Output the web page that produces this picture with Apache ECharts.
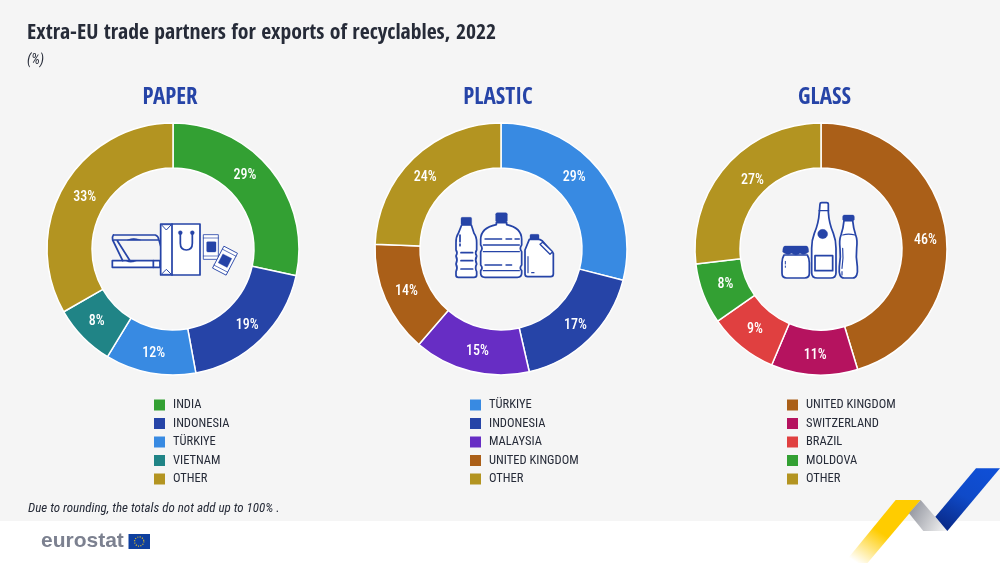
<!DOCTYPE html>
<html><head><meta charset="utf-8">
<style>html,body{margin:0;padding:0;background:#fff}#c{width:1000px;height:563px}</style>
<script src="https://cdn.jsdelivr.net/npm/echarts@6/dist/echarts.min.js"></script>
</head><body><div id="c"></div>
<script>
const paperNames=['INDIA','INDONESIA','TÜRKIYE','VIETNAM','OTHER'];
const paperLabels=[29,19,12,8,33];
const paperValues=[28.4,18.7,11.6,8.0,33.3];
const paperColors=['#33A033','#2644A7','#388AE2','#208486','#B39421'];
const plasticNames=['TÜRKIYE','INDONESIA','MALAYSIA','UNITED KINGDOM','OTHER'];
const plasticLabels=[29,17,15,14,24];
const plasticValues=[29.0,17.4,14.9,14.3,24.4];
const plasticColors=['#388AE2','#2644A7','#672DC4','#AA5F18','#B39421'];
const glassNames=['UNITED KINGDOM','SWITZERLAND','BRAZIL','MOLDOVA','OTHER'];
const glassLabels=[46,11,9,8,27];
const glassValues=[45.3,11.1,8.9,7.8,26.9];
const glassColors=['#AA5F18','#B5135F','#E04040','#33A033','#B39421'];
const panelTitles=['PAPER','PLASTIC','GLASS'];
const BOLD='"Open Sans Condensed","Roboto Condensed",sans-serif';
const FONT='"Roboto Condensed",sans-serif';
const INK='#262B38', BLUE='#2644A7';
const panels=[
 {names:paperNames,values:paperValues,labels:paperLabels,colors:paperColors,cx:173,lx:154,tx:170,nudge:[[-11,-7],[0,0],[0,0],[0,-2],[4,2]]},
 {names:plasticNames,values:plasticValues,labels:plasticLabels,colors:plasticColors,cx:501,lx:470,tx:498,nudge:[[-11,-6],[0,0],[2,-1],[3,0],[-2,5]]},
 {names:glassNames,values:glassValues,labels:glassLabels,colors:glassColors,cx:821,lx:787,tx:824.5,nudge:[[-1,7],[0,0],[1,-2],[4,-2],[11,2]]}];

const S=1/3, LW=5.2;
let shapeCount=0;
function shape(d){const n='iconPath'+(shapeCount++);echarts.graphic.registerShape(n,echarts.graphic.extendPath(d,{}));return n;}
function line(d,w){return {type:shape(d),shape:{},style:{fill:null,stroke:BLUE,lineWidth:w||LW,lineCap:'round',lineJoin:'round'}};}
function white(d,w){return {type:shape(d),shape:{},style:{fill:'#fff',stroke:BLUE,lineWidth:w||LW,lineJoin:'round'}};}
function solid(d){return {type:shape(d),shape:{},style:{fill:BLUE,stroke:BLUE,lineWidth:1}};}
function icon(x,y,children){return {type:'group',x:x,y:y,scaleX:S,scaleY:S,children:children};}

const paperIcon=icon(90,210,[
 white('M67 152H210V172H67Z'),
 line('M190 152V172'),
 line('M72 75H196Q205 78 207 90L212 108M70 75Q66 80 68 90L98 152M72 90H204M82 92L120 152'),
 solid('M112 90Q125 83 140 86L152 90Z'),
 solid('M108 152Q120 162 140 152Z'),
 white('M212 42H330V195H212Z'),
 line('M246 42V195',LW),
 white('M214 44L244 44L229 60Z',3),
 white('M214 193L244 193L229 178Z',3),
 line('M271 68V100Q271 120 289 120Q307 120 307 100V68'),
 solid('M265 68a6 6 0 1 0 12 0a6 6 0 1 0 -12 0Z'),
 solid('M301 68a6 6 0 1 0 12 0a6 6 0 1 0 -12 0Z'),
 white('M340 74H385V148H340Z',2.5),
 line('M340 84H385M340 138H385',2),
 solid('M350 97Q350 95 354 95H374Q378 95 378 97V123Q378 126 374 126H354Q350 126 350 123Z'),
 {type:'group',x:405,y:152,rotation:-0.48,children:[
  white('M-23 -37H23V37H-23Z',2.5),
  line('M-23 -27H23M-23 27H23',2),
  solid('M-15 -15H15V15H-15Z')
 ]}
]);

const plasticIcon=icon(430,200,[
 white('M95 75L85 100Q78 110 78 128V150Q84 158 78 168Q84 180 78 192Q84 204 78 215V225Q78 232 85 232H132Q140 232 140 225V215Q134 204 140 192Q134 180 140 168Q134 158 140 150V128Q140 110 132 100L124 75Z'),
 solid('M93 56Q93 52 97 52H121Q125 52 125 56V72Q125 75 121 75H97Q93 75 93 72Z'),
 line('M90 105V125M90 132V137'),
 line('M93 158H128M93 182H128M93 207H128'),
 white('M199 68V74Q152 84 152 118V135Q160 145 152 155V195Q160 204 152 212V220Q152 232 165 232H262Q275 232 275 220V212Q267 204 275 195V155Q267 145 275 135V118Q275 84 230 74V68Z'),
 solid('M197 43Q197 38 202 38H227Q232 38 232 43V62Q232 66 227 66H202Q197 66 197 62Z'),
 line('M165 117H215M228 117H245M255 117H268M160 135H268M160 155H268M165 195H215M228 195H245M160 212H268',4),
 white('M298 118L285 150V222Q285 230 293 230H362Q370 230 370 222V160L336 122Q330 118 325 118Z'),
 solid('M300 106Q300 103 304 103H323Q327 103 327 106V118H300Z'),
 white('M330 133L338 127L368 155L360 163Z',4),
 line('M294 170V218M305 218H312',3.5)
]);

const glassIcon=icon(760,190,[
 white('M72 195Q66 205 66 218V250Q66 264 80 264H134Q148 264 148 250V218Q148 205 142 195Z'),
 solid('M74 168H140Q146 170 146 186Q132 198 120 190Q108 200 95 190Q82 198 68 186Q68 170 74 168Z'),
 line('M76 214V222M76 228V232',3),
 white('M180 42Q180 38 185 38H200Q205 38 205 42V66Q207 100 220 130Q228 150 228 175V248Q228 264 212 264H172Q155 264 155 248V175Q155 150 163 130Q176 100 178 66Z'),
 line('M177 62H206',3.5),
 solid('M173 132a15 14 0 1 0 30 0a15 14 0 1 0 -30 0Z'),
 white('M165 197H218V242H165Z'),
 white('M252 92Q250 115 243 135Q237 150 240 175Q243 200 238 230Q235 264 252 264H278Q295 264 292 230Q287 200 290 175Q293 150 287 135Q280 115 278 92Z'),
 line('M248 135Q265 130 285 135',3.5),
 line('M248 175Q251 205 246 235M246 245V255',3.5),
 solid('M248 80Q248 75 253 75H278Q283 75 283 80V88Q283 92 278 92H253Q248 92 248 88Z')
]);

const grad=(x,y,x2,y2,stops)=>({type:'linear',x:x,y:y,x2:x2,y2:y2,colorStops:stops.map((c,i)=>({offset:i/(stops.length-1),color:c}))});
const ribbons=icon(830,460,[
 {type:'polygon',shape:{points:[[197,120],[272,120],[110,312],[40,312]]},style:{fill:grad(0.75,0,0.2,1,['#FFCC00','#FFCC00','#FFFFFF'])}},
 {type:'polygon',shape:{points:[[272,120],[352,213],[280,213],[237,160]]},style:{fill:grad(0,0.2,1,0.85,['#8F929C','#F2F2F2'])}},
 {type:'polygon',shape:{points:[[438,25],[510,25],[352,213],[316,170]]},style:{fill:grad(0.8,0,0.3,1,['#0F4FD6','#0F4AC8','#0A2C8C'])}}
]);

const flag=[
 {type:'rect',shape:{x:128.5,y:534,width:21.5,height:15},style:{fill:'#0E3F9E'}},
 {type:'circle',shape:{cx:139.2,cy:541.5,r:4.6},style:{fill:null,stroke:'#F2C81E',lineWidth:1.2,lineDash:[1,1.4]}}
];

const graphic=[
 {type:'rect',z:-1,shape:{x:0,y:0,width:1000,height:521},style:{fill:'#F5F5F5'}},
 ribbons,
 {type:'text',x:41,y:541.5,style:{text:'eurostat',font:'bold 21px "Liberation Sans",sans-serif',fill:'#7C8190',verticalAlign:'middle'}},
 ...flag,
 {type:'group',z:5,children:[paperIcon,plasticIcon,glassIcon]}
];

const option={
 animation:false,backgroundColor:'#fff',
 textStyle:{fontFamily:FONT},
 graphic:graphic,
 title:[
  {text:'Extra-EU trade partners for exports of recyclables, 2022',left:22,top:17,textStyle:{fontFamily:BOLD,fontSize:21.7,fontWeight:'bold',color:INK}},
  {text:'(%)',left:22,top:48,textStyle:{fontFamily:FONT,fontSize:14,fontStyle:'italic',fontWeight:'normal',color:INK}},
  {text:'Due to rounding, the totals do not add up to 100% .',left:23,top:497,textStyle:{fontFamily:FONT,fontSize:13,fontStyle:'italic',fontWeight:'normal',color:INK}},
  ...panels.map((p,i)=>({text:panelTitles[i],left:p.tx-5,top:81,textAlign:'center',textStyle:{fontFamily:BOLD,fontSize:23,fontWeight:'bold',color:BLUE}}))
 ],
 legend:panels.map(p=>({data:p.names,orient:'vertical',left:p.lx,top:398,itemWidth:11,itemHeight:11,itemGap:4.5,selectedMode:false,icon:'rect',itemStyle:{borderWidth:0},textStyle:{fontFamily:FONT,fontSize:12.5,lineHeight:14,color:INK,padding:[0,0,0,3]},padding:0})),
 series:panels.map(p=>({type:'pie',center:[p.cx,249],radius:[81,126],startAngle:90,clockwise:true,silent:true,
  data:p.names.map((n,i)=>({name:n,value:p.values[i],itemStyle:{color:p.colors[i]}})),
  itemStyle:{borderColor:'#fff',borderWidth:1.5},
  label:{show:true,position:'inside',formatter:q=>p.labels[q.dataIndex]+'%',color:'#fff',fontFamily:FONT,fontSize:14,fontWeight:500},
  labelLayout:q=>({dx:p.nudge[q.dataIndex][0],dy:p.nudge[q.dataIndex][1]}),
  labelLine:{show:false}}))
};
echarts.init(document.getElementById('c'),null,{renderer:'canvas'}).setOption(option);
</script></body></html>
